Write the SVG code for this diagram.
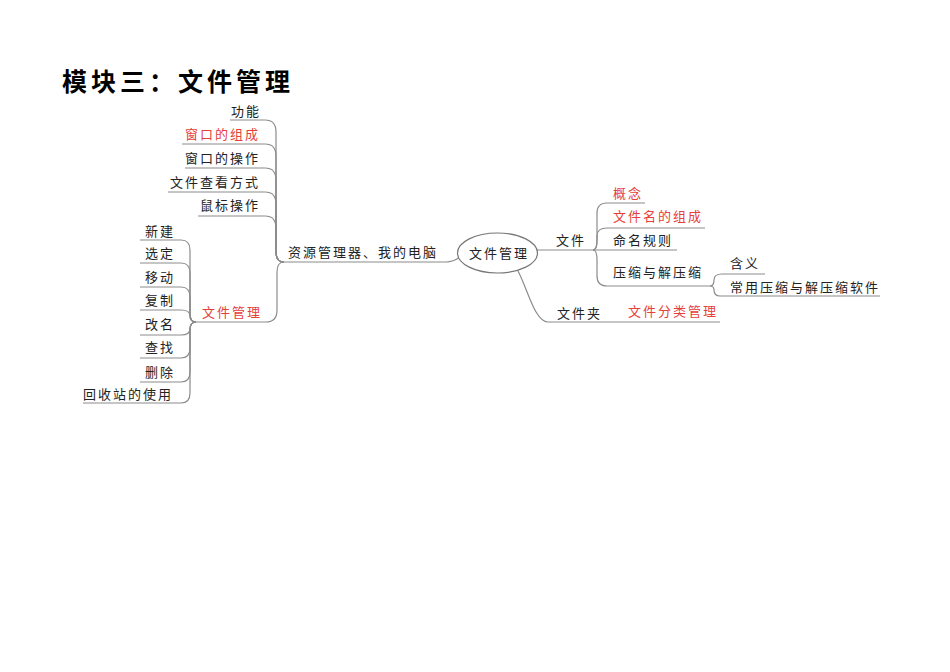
<svg xmlns="http://www.w3.org/2000/svg" width="950" height="672" viewBox="0 0 950 672">
<style>
text{font-family:"Noto Sans CJK SC","Noto Sans",sans-serif;font-size:13px;letter-spacing:2px;fill:#222}
.r{fill:#e5403a}
.t{font-size:25px;font-weight:bold;letter-spacing:4px;fill:#000}
.c path{fill:none;stroke:#8c8c8c;stroke-width:1.2}
</style>
<rect width="950" height="672" fill="#fff"/>
<text class="t" x="62" y="91">模块三：文件管理</text>
<g class="c" id="connectors">
<path d="M230,120 H265 Q276,120 276,132 V252 Q276,262 284,262"/>
<path d="M182,144 H265 Q276,144 276,156 V252 Q276,262 284,262"/>
<path d="M185,168 H265 Q276,168 276,180 V252 Q276,262 284,262"/>
<path d="M168,192 H265 Q276,192 276,204 V252 Q276,262 284,262"/>
<path d="M198,216 H265 Q276,216 276,228 V252 Q276,262 284,262"/>
<path d="M193,322 H266 Q277,322 277,310 V272 Q277,262 284,262"/>
<path d="M280,262 H446 Q453,262 460,257"/>
<path d="M140,240 H181 Q190,240 190,250 V314 Q190,322 196,322"/>
<path d="M140,263 H181 Q190,263 190,273 V314 Q190,322 196,322"/>
<path d="M140,287 H181 Q190,287 190,297 V314 Q190,322 196,322"/>
<path d="M140,310 H181 Q190,310 190,316 Q190,322 196,322"/>
<path d="M140,335 H181 Q190,335 190,329 Q190,322 196,322"/>
<path d="M140,358 H181 Q190,358 190,348 V330 Q190,322 196,322"/>
<path d="M140,382 H181 Q190,382 190,372 V330 Q190,322 196,322"/>
<path d="M83,403 H181 Q190,403 190,393 V330 Q190,322 196,322"/>
<path d="M537,250 H677"/>
<path d="M593,250 Q597,250 597,240 V213 Q597,203 607,203 H645"/>
<path d="M593,250 Q597,250 597,240 V236 Q597,228 607,228 H705"/>
<path d="M593,250 Q597,250 597,260 V276 Q597,286 607,286 H710"/>
<path d="M710,286 Q714,286 714,280 Q714,274 722,274 H765"/>
<path d="M710,286 Q714,286 714,290 Q714,296 720,296 H880"/>
<path d="M518,271 C528,290 535,322 548,322 H720"/>
</g>
<g id="n-gongneng"><text x="231" y="116">功能</text></g>
<g id="n-ck-zc"><text class="r" x="185" y="139">窗口的组成</text></g>
<g id="n-ck-cz"><text x="185" y="163">窗口的操作</text></g>
<g id="n-wjckfs"><text x="170" y="187">文件查看方式</text></g>
<g id="n-sbcz"><text x="200" y="210">鼠标操作</text></g>
<g id="n-xj"><text x="145" y="236">新建</text></g>
<g id="n-xd"><text x="145" y="258">选定</text></g>
<g id="n-yd"><text x="145" y="282">移动</text></g>
<g id="n-fz"><text x="145" y="305">复制</text></g>
<g id="n-gm"><text x="145" y="329">改名</text></g>
<g id="n-cz"><text x="145" y="352">查找</text></g>
<g id="n-sc"><text x="145" y="377">删除</text></g>
<g id="n-hsz"><text x="83" y="399">回收站的使用</text></g>
<g id="n-wjgl-left"><text class="r" x="202" y="317">文件管理</text></g>
<g id="n-zygl"><text x="288" y="257">资源管理器、我的电脑</text></g>
<g id="n-center"><ellipse cx="497.5" cy="253" rx="40" ry="20" fill="#fff" stroke="#777" stroke-width="1.2"/><text x="469" y="258">文件管理</text></g>
<g id="n-wj"><text x="556" y="245">文件</text></g>
<g id="n-gn"><text class="r" x="613" y="198">概念</text></g>
<g id="n-wjmzc"><text class="r" x="613" y="221">文件名的组成</text></g>
<g id="n-mmgz"><text x="613" y="245">命名规则</text></g>
<g id="n-ys"><text x="613" y="277">压缩与解压缩</text></g>
<g id="n-hy"><text x="730" y="268">含义</text></g>
<g id="n-cyys"><text x="730" y="292">常用压缩与解压缩软件</text></g>
<g id="n-wjj"><text x="557" y="318">文件夹</text></g>
<g id="n-flgl"><text class="r" x="628" y="316">文件分类管理</text></g>
</svg>
